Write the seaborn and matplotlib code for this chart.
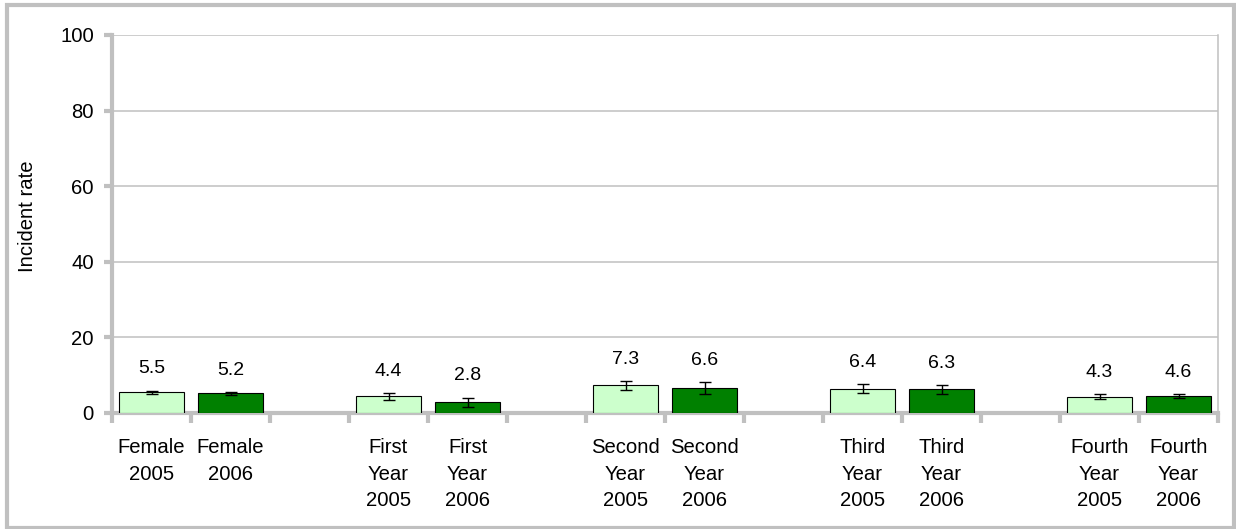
import numpy as np
import pandas as pd
import matplotlib
matplotlib.use('Agg')
import matplotlib.pyplot as plt
from matplotlib.patches import Rectangle
import seaborn as sns

# ------------------------------
# Data
# ------------------------------
groups = ['Female', 'First\nYear', 'Second\nYear', 'Third\nYear', 'Fourth\nYear']
years = ['2005', '2006']
rates = [5.5, 5.2, 4.4, 2.8, 7.3, 6.6, 6.4, 6.3, 4.3, 4.6]
errs = [0.45, 0.45, 1.0, 1.3, 1.2, 1.7, 1.2, 1.2, 0.65, 0.5]
year_colors = {'2005': '#CCFFCC', '2006': '#008000'}

labels = [f'{g}\n{y}' for g in groups for y in years]
df = pd.DataFrame({
    'label': labels,
    'year': years * len(groups),
    'rate': rates,
    'err': errs,
})

# category order with an empty slot between groups
order = []
for i, g in enumerate(groups):
    order += [f'{g}\n{y}' for y in years]
    if i < len(groups) - 1:
        order.append(' ' * (i + 1))

# ------------------------------
# Plot
# ------------------------------
sns.set_theme(style='white')
plt.rcParams['font.family'] = ['Liberation Sans', 'DejaVu Sans']
grey = '#C0C0C0'

fig = plt.figure(figsize=(12.36, 5.29), dpi=100)
ax = fig.add_axes([112 / 1236, 1 - 413 / 529, 1106 / 1236, 378 / 529])

sns.barplot(data=df, x='label', y='rate', hue='year', order=order,
            palette=year_colors, saturation=1, dodge=False, width=0.82,
            errorbar=None, edgecolor='black', linewidth=0.8, legend=False,
            ax=ax, zorder=3)

pos = [order.index(l) for l in df['label']]
ax.errorbar(pos, df['rate'], yerr=df['err'], fmt='none', ecolor='black',
            elinewidth=1.0, capsize=4, capthick=1.0, zorder=4)

# value labels sit just above the error bar
for x, v, e in zip(pos, df['rate'], df['err']):
    ax.annotate(f'{v:.1f}', (x, v + e), xytext=(0, 15.5), textcoords='offset points',
                ha='center', va='center', fontsize=14, color='black')

ax.set_xlim(-0.5, len(order) - 0.5)
ax.set_ylim(0, 100)
ax.set_yticks(np.arange(0, 101, 20))
ax.yaxis.grid(True, color=grey, linewidth=1.1, zorder=0)
ax.set_axisbelow(True)

ax.set_xticks(range(len(order)))
ax.set_xticklabels([l if l.strip() else '' for l in order], linespacing=1.5)
ax.set_xticks(np.arange(-0.5, len(order)), minor=True)
ax.tick_params(axis='x', which='major', length=0, pad=18, labelsize=14.6,
               labelcolor='black')
ax.tick_params(axis='x', which='minor', length=7, width=3, color=grey, bottom=True)
ax.tick_params(axis='y', length=6, width=3, color=grey, pad=7, labelsize=14.6,
               labelcolor='black', left=True)

ax.set_xlabel('')
ax.set_ylabel('Incident rate', fontsize=14.6, color='black')
ax.yaxis.set_label_coords(-0.068, 0.52)

for s in ['left', 'bottom']:
    ax.spines[s].set_color(grey)
    ax.spines[s].set_linewidth(3)
ax.spines['right'].set_color(grey)
ax.spines['right'].set_linewidth(1.1)
ax.spines['top'].set_visible(False)

# outer frame of the chart
fig.add_artist(Rectangle((7 / 1236, 1 / 529), 1227 / 1236, 523 / 529,
                         transform=fig.transFigure, fill=False,
                         edgecolor=grey, linewidth=3))

fig.savefig('out.png', dpi=100)
